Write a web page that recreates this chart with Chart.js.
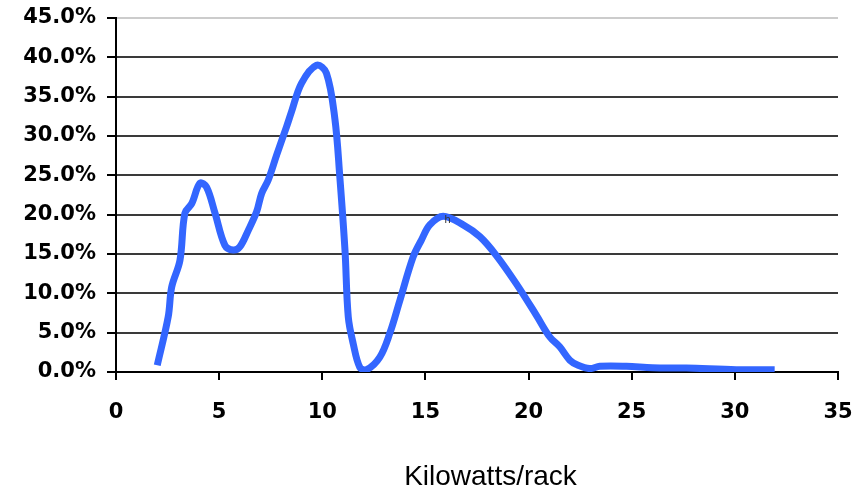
<!DOCTYPE html>
<html>
<head>
<meta charset="utf-8">
<script src="https://cdn.jsdelivr.net/npm/chart.js@4/dist/chart.umd.min.js"></script>
<style>
  html, body { margin: 0; padding: 0; background: #ffffff; }
  #wrap { width: 854px; height: 491px; position: relative; }
</style>
</head>
<body>
<div id="wrap"><canvas id="c" width="854" height="491"></canvas></div>
<script>
// Rack power density distribution (kW per rack vs share of racks)
const kilowatts = [2.0, 2.53, 2.7, 3.1, 3.34, 3.67, 4.07, 4.39, 4.8, 5.28, 5.68, 6.0, 6.41,
  6.82, 7.06, 7.38, 7.79, 8.27, 8.51, 8.99, 9.72, 10.2, 10.61, 10.85, 11.1, 11.26, 11.5,
  11.82, 12.15, 12.79, 13.27, 13.76, 14.4, 14.81, 15.21, 15.86, 16.83, 17.64, 18.44,
  19.41, 20.38, 21.03, 21.51, 22.0, 22.4, 22.97, 23.45, 24.74, 26.0, 27.65, 30.07, 31.93];
const shareOfRacks = [0.0085, 0.070, 0.108, 0.142, 0.202, 0.214, 0.240, 0.235, 0.202, 0.161,
  0.155, 0.159, 0.180, 0.204, 0.227, 0.244, 0.276, 0.312, 0.331, 0.367, 0.390, 0.380,
  0.322, 0.248, 0.155, 0.070, 0.036, 0.006, 0.003, 0.019, 0.049, 0.091, 0.146, 0.168,
  0.187, 0.198, 0.187, 0.172, 0.148, 0.112, 0.072, 0.0445, 0.032, 0.015, 0.0085, 0.0043,
  0.0072, 0.0072, 0.0055, 0.005, 0.003, 0.003];
const xTicks = [0, 5, 10, 15, 20, 25, 30, 35];
const yTicks = [0, 0.05, 0.10, 0.15, 0.20, 0.25, 0.30, 0.35, 0.40, 0.45];
const xAxisTitle = 'Kilowatts/rack';

const points = kilowatts.map((k, i) => ({ x: k, y: shareOfRacks[i] }));

const tickFont = { family: '"DejaVu Sans", sans-serif', size: 21, weight: 'bold' };

// Axis title and small mark drawn straight onto the canvas
const extraText = {
  id: 'extraText',
  afterDatasetsDraw(chart) {
    const ctx = chart.ctx;
    ctx.save();
    ctx.fillStyle = '#333333';
    ctx.font = '11px "Liberation Sans", Arial, sans-serif';
    ctx.textAlign = 'left';
    ctx.textBaseline = 'alphabetic';
    ctx.fillText('h', 444.5, 223);
    ctx.restore();
  },
  afterDraw(chart) {
    const ctx = chart.ctx;
    ctx.save();
    ctx.fillStyle = '#000000';
    ctx.font = '28px "Liberation Sans", Arial, sans-serif';
    ctx.textAlign = 'center';
    ctx.textBaseline = 'alphabetic';
    ctx.fillText(xAxisTitle, 490.5, 485);
    ctx.restore();
  }
};

new Chart(document.getElementById('c'), {
  type: 'line',
  data: {
    datasets: [{
      data: points,
      borderColor: '#3366ff',
      borderWidth: 7,
      pointRadius: 0,
      tension: 0.35,
      fill: false
    }]
  },
  options: {
    responsive: false,
    animation: false,
    layout: { padding: { top: 18, right: 16, left: 0, bottom: 0 } },
    plugins: { legend: { display: false }, tooltip: { enabled: false } },
    scales: {
      x: {
        type: 'linear',
        min: 0, max: 35,
        afterBuildTicks(scale) { scale.ticks = xTicks.map(v => ({ value: v })); },
        afterFit(scale) {
          scale.height = 119;
          scale.paddingLeft = 0;
          scale.paddingRight = 0;
        },
        border: { display: true, color: '#000000', width: 2 },
        grid: { drawOnChartArea: false, drawTicks: true, tickLength: 8, tickColor: '#000000', lineWidth: 2 },
        ticks: { color: '#000000', font: tickFont, padding: 20, maxRotation: 0 }
      },
      y: {
        min: 0, max: 0.45,
        afterBuildTicks(scale) { scale.ticks = yTicks.map(v => ({ value: v })); },
        afterFit(scale) {
          scale.width = 116;
          scale.paddingTop = 0;
          scale.paddingBottom = 0;
        },
        border: { display: true, color: '#000000', width: 2 },
        grid: {
          drawTicks: true, tickLength: 9, tickColor: '#000000', lineWidth: 2,
          color: ctx => (ctx.tick && ctx.tick.value >= 0.449) ? '#cccccc' : '#3a3a3a'
        },
        ticks: {
          color: '#000000', font: tickFont, padding: 11,
          callback: v => (v * 100).toFixed(1) + '%'
        }
      }
    }
  },
  plugins: [extraText]
});
</script>
</body>
</html>
